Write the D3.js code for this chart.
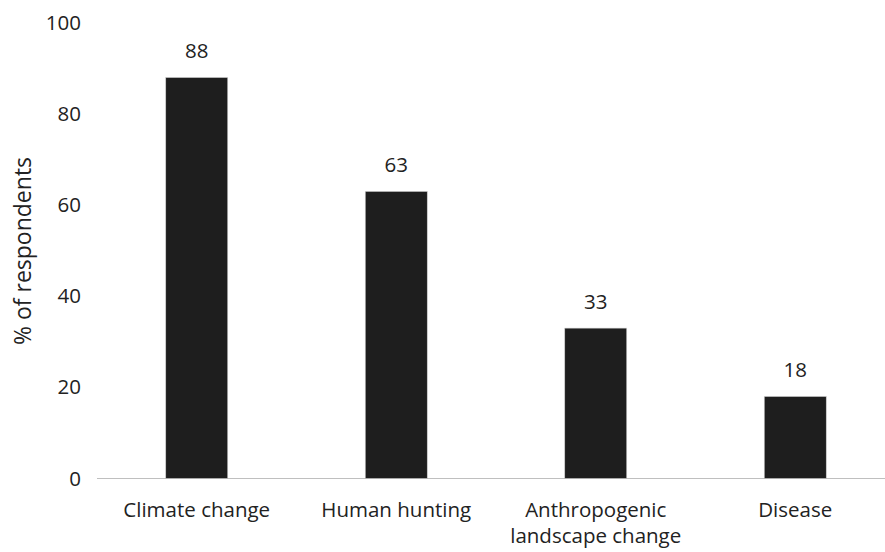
<!DOCTYPE html>
<html>
<head>
<meta charset="utf-8">
<script src="https://cdn.jsdelivr.net/npm/d3@7"></script>
<style>
  body { margin: 0; background: #fff; }
  text { font-family: "Open Sans", sans-serif; fill: #222; }
</style>
</head>
<body>
<script>
(function() {
  const categories = ['Climate change', 'Human hunting', 'Anthropogenic\nlandscape change', 'Disease'];
  const values = [88, 63, 33, 18];
  const yTicks = [0, 20, 40, 60, 80, 100];

  const width = 885;
  const height = 552;
  const left = 97;
  const right = 895;
  const top = 22.8;
  const bottom = 478.5;
  const fontSize = '20.5px';

  const svg = d3.select('body').append('svg').attr('width', width).attr('height', height);

  const xScale = d3.scaleBand()
    .domain(categories)
    .range([left, right])
    .padding(0);

  const barWidth = 62;

  const yScale = d3.scaleLinear()
    .domain([0, 100])
    .range([bottom, top]);

  // y tick labels only, no axis line
  const yAxis = svg.append('g')
    .attr('transform', 'translate(' + 81 + ',0)')
    .call(d3.axisLeft(yScale).tickValues(yTicks).tickSize(0).tickPadding(0));
  yAxis.select('.domain').remove();
  yAxis.selectAll('text')
    .style('font-size', fontSize)
    .style('font-family', '"Open Sans", sans-serif')
    .attr('fill', '#222');

  // baseline
  svg.append('line')
    .attr('x1', left).attr('x2', width)
    .attr('y1', yScale(0)).attr('y2', yScale(0))
    .attr('stroke', '#bfbfbf').attr('stroke-width', 1.2);

  const data = categories.map(function(c, i) { return { name: c, value: values[i] }; });

  svg.append('g')
    .selectAll('rect')
    .data(data)
    .enter()
    .append('rect')
    .attr('x', function(d) { return xScale(d.name) + xScale.bandwidth() / 2 - barWidth / 2; })
    .attr('y', function(d) { return yScale(d.value); })
    .attr('width', barWidth)
    .attr('height', function(d) { return yScale(0) - yScale(d.value); })
    .attr('fill', '#1e1e1e')
    .attr('stroke', '#d0d0d0')
    .attr('stroke-width', 0.6);

  // value labels
  svg.append('g')
    .selectAll('text')
    .data(data)
    .enter()
    .append('text')
    .attr('x', function(d) { return xScale(d.name) + xScale.bandwidth() / 2; })
    .attr('y', function(d) { return yScale(d.value) - 19; })
    .attr('text-anchor', 'middle')
    .style('font-size', fontSize)
    .text(function(d) { return d.value; });

  // category labels
  const cat = svg.append('g')
    .selectAll('text')
    .data(data)
    .enter()
    .append('text')
    .attr('x', function(d) { return xScale(d.name) + xScale.bandwidth() / 2; })
    .attr('y', 517)
    .attr('text-anchor', 'middle')
    .style('font-size', fontSize);
  cat.each(function(d) {
    const lines = d.name.split('\n');
    const t = d3.select(this);
    lines.forEach(function(l, i) {
      t.append('tspan')
        .attr('x', xScale(d.name) + xScale.bandwidth() / 2)
        .attr('dy', i === 0 ? 0 : 26)
        .text(l);
    });
  });

  svg.append('text')
    .attr('transform', 'translate(' + 31 + ',' + 251 + ') rotate(-90)')
    .attr('text-anchor', 'middle')
    .style('font-size', '23px')
    .text('% of respondents');
})();
</script>
</body>
</html>
